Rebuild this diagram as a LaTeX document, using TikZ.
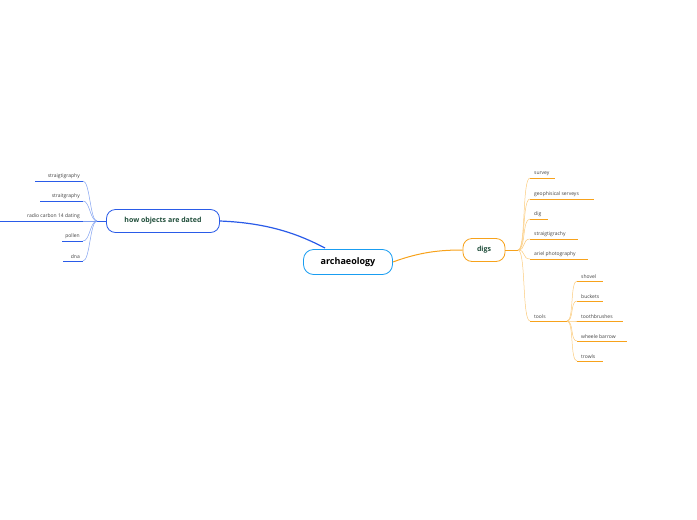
\documentclass[tikz,border=0pt]{standalone}
\usepackage{fontspec}
\setmainfont{Open Sans}
\definecolor{bl}{HTML}{2A5BE8}
\definecolor{lbl}{HTML}{7FA0F0}
\definecolor{og}{HTML}{F7A21B}
\definecolor{log}{HTML}{FBCB7C}
\definecolor{tx}{HTML}{1F4D3A}
\tikzset{
 main/.style={draw=#1,rounded corners=9pt,line width=0.8pt,minimum height=23pt,font=\bfseries\fontsize{7}{8}\selectfont,text=tx,inner xsep=8pt},
 leafr/.style={anchor=south west,inner xsep=4pt,inner ysep=2pt,font=\fontsize{5}{6}\selectfont,text=black!75},
 leafl/.style={anchor=south east,inner xsep=3pt,inner ysep=2pt,font=\fontsize{5}{6}\selectfont,text=black!75},
 ul/.style={draw=#1,line width=1pt},
 br/.style={draw=#1,line width=0.5pt},
}
\begin{document}
\begin{tikzpicture}[x=1pt,y=-1pt]
\useasboundingbox (0,0) rectangle (697,520);
\node[main=bl!60!cyan,minimum width=89pt,font=\bfseries\fontsize{9}{10}\selectfont,minimum height=25pt,rounded corners=10pt,text=black] (A) at (348,262) {archaeology};
\node[main=bl,minimum width=113pt] (H) at (163,221) {how objects are dated};
\node[main=og,minimum width=42pt] (D) at (484,250) {digs};
\draw[bl,line width=1.2pt] (H.east) .. controls (270,223) and (300,235) .. (325,248);
\draw[og,line width=1pt] (A.east) .. controls (420,252) and (440,250) .. (D.west);
% left
\coordinate (LB) at (97,221);
\draw[bl,line width=0.8pt] (H.west) -- (LB);
\foreach \n/\t/\y/\s in {l1/straigtigraphy/181/35,l2/straitgraphy/201/40,l3/radio carbon 14 dating/221/0,l4/pollen/241/62,l5/dna/261/63}{
 \node[leafl] (\n) at (83,\y) {\t};
 \draw[ul=bl] (\s,\y) -- (\n.south east);
 \draw[br=lbl] (LB) .. controls (90,221) and (90,\y) .. (\n.south east);
}
% right
\coordinate (RB) at (518,250);
\draw[og,line width=0.8pt] (D.east) -- (RB);
\foreach \n/\t/\y/\e in {r1/survey/178/555,r2/geophisical serveys/199/594,r3/dig/219/548,r4/straigtigrachy/239/578,r5/ariel photography/259/588,r6/tools/321/567}{
 \node[leafr] (\n) at (530,\y) {\t};
 \draw[ul=og] (\n.south west) -- (\e,\y);
 \draw[br=log] (RB) .. controls (526,250) and (522,\y) .. (\n.south west);
}
\coordinate (TB) at (567,321);
\foreach \n/\t/\y/\e in {t1/shovel/281/603,t2/buckets/301/603,t3/toothbrushes/321/623,t4/wheele barrow/341/627,t5/trowls/361/603}{
 \node[leafr] (\n) at (577,\y) {\t};
 \draw[ul=og] (\n.south west) -- (\e,\y);
 \draw[br=log] (TB) .. controls (574,321) and (570,\y) .. (\n.south west);
}
\end{tikzpicture}
\end{document}
